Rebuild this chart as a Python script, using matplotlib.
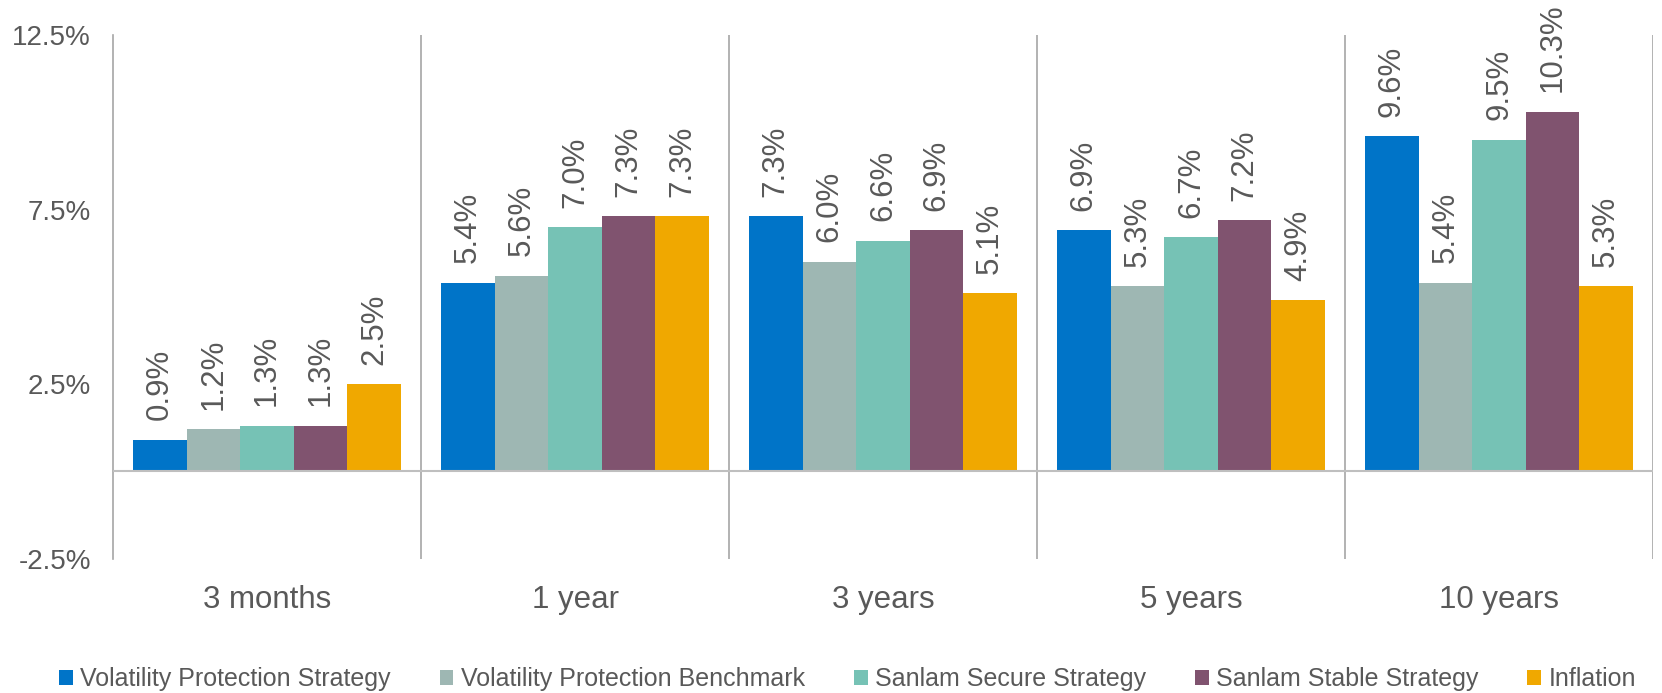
import numpy as np
import matplotlib
matplotlib.use('Agg')
from matplotlib import pyplot as plt

periods = ['3 months', '1 year', '3 years', '5 years', '10 years']
series_names = ['Volatility Protection Strategy', 'Volatility Protection Benchmark',
                'Sanlam Secure Strategy', 'Sanlam Stable Strategy', 'Inflation']
vps = [0.9, 5.4, 7.3, 6.9, 9.6]
vpb = [1.2, 5.6, 6.0, 5.3, 5.4]
secure = [1.3, 7.0, 6.6, 6.7, 9.5]
stable = [1.3, 7.3, 6.9, 7.2, 10.3]
inflation = [2.5, 7.3, 5.1, 4.9, 5.3]
y_ticks = [-2.5, 2.5, 7.5, 12.5]

colors = ['#0074C8', '#9EB7B3', '#76C2B5', '#80536F', '#F0A800']
text_col = '#595959'

plt.rcParams['font.family'] = ['Liberation Sans', 'DejaVu Sans']

fig = plt.figure(figsize=(16.62, 6.93), dpi=100)
ax = fig.add_axes([0.068, 0.194, 0.9266, 0.7555])

all_vals = [vps, vpb, secure, stable, inflation]
n = len(all_vals)
bw = 0.87 / n
x = np.arange(len(periods))
for i, (vals, name, c) in enumerate(zip(all_vals, series_names, colors)):
    pos = x - 0.435 + bw * (i + 0.5)
    ax.bar(pos, vals, width=bw, color=c, label=name, zorder=2)
    for p, v in zip(pos, vals):
        ax.annotate(f'{v:.1f}%', (p, v), xytext=(0, 14), textcoords='offset points',
                    rotation=90, ha='center', va='bottom', fontsize=22.5,
                    color=text_col, annotation_clip=False)

ax.set_xlim(-0.5, len(periods) - 0.5)
ax.set_ylim(-2.5, 12.5)
ax.axhline(0, color='#BFBFBF', lw=1.5, zorder=3)
for b in np.arange(0.5, len(periods) - 0.5, 1.0):
    ax.axvline(b, color='#A6A6A6', lw=1.2, zorder=1)
ax.axvline(len(periods) - 0.5, color='#A6A6A6', lw=1.2, zorder=1)

ax.set_yticks(y_ticks)
ax.set_yticklabels([f'{t:.1f}%' for t in y_ticks])
ax.set_xticks(x)
ax.set_xticklabels(periods)
ax.tick_params(axis='y', length=0, pad=16, labelsize=20, labelcolor=text_col)
ax.tick_params(axis='x', length=0, pad=19, labelsize=22.5, labelcolor=text_col)
for s in ['top', 'right', 'bottom']:
    ax.spines[s].set_visible(False)
ax.spines['left'].set_color('#A6A6A6')
ax.spines['left'].set_linewidth(1.2)

fig.legend(loc='center', bbox_to_anchor=(0.51, 0.02), ncol=5, frameon=False,
           handlelength=0.55, handleheight=0.55, handletextpad=0.3, columnspacing=1.95,
           prop={'size': 18}, labelcolor=text_col)

plt.savefig('out.png', dpi=100)
